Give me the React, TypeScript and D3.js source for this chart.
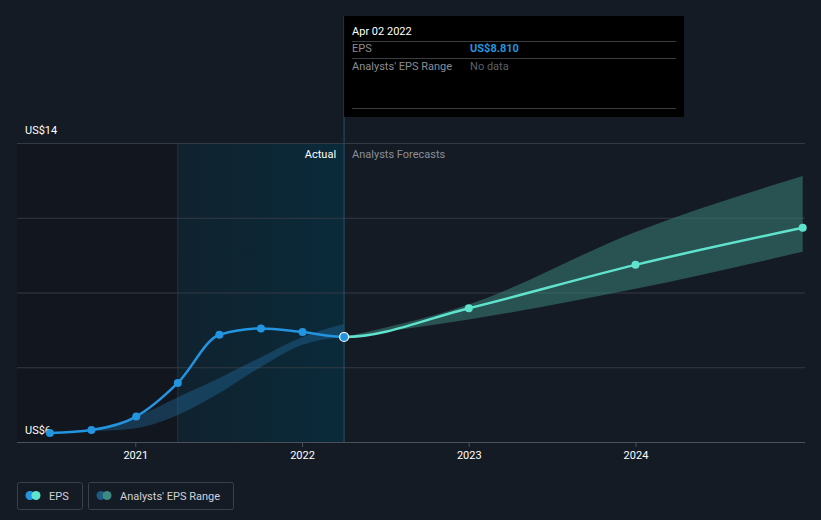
import React, { useEffect, useRef } from 'react';
import * as d3 from 'd3';

const histDates = ['2020-06-27', '2020-09-26', '2021-01-02', '2021-04-03', '2021-07-03', '2021-10-02', '2022-01-01', '2022-04-02'];
const histEps = [6.24, 6.32, 6.68, 7.58, 8.87, 9.04, 8.94, 8.81];

const fcDates = ['2022-12-31', '2023-12-31', '2024-12-31'];
const fcEps = [9.58, 10.74, 11.73];
const fcLow = [8.81, 9.28, 10.1, 11.09];
const fcHigh = [8.81, 9.68, 11.62, 13.12];

const pastRangeDates = ['2020-09-26', '2021-01-02', '2021-04-03', '2021-07-03', '2021-10-02', '2022-01-01', '2022-04-02'];
const pastLow = [6.29, 6.37, 6.72, 7.31, 8.01, 8.6, 8.81];
const pastHigh = [6.33, 6.68, 7.2, 7.71, 8.27, 8.81, 9.16];

const yearTicks = ['2021-01-01', '2022-01-01', '2023-01-01', '2024-01-01'];
const yTicks = [6, 8, 10, 12, 14];

const FONT = 'Roboto, "Noto Sans", sans-serif';

const App: React.FC = () => {
  const svgRef = useRef<SVGSVGElement | null>(null);

  useEffect(() => {
    if (!svgRef.current) return;
    const width = 821;
    const height = 520;
    const left = 17;
    const right = 805;
    const top = 143;
    const bottom = 442;

    const svg = d3.select(svgRef.current).attr('width', width).attr('height', height);
    svg.selectAll('*').remove();

    const p = (s: string) => new Date(s + 'T00:00:00');
    const x = d3.scaleTime().domain([p('2020-04-16'), p('2025-01-05')]).range([left, right]);
    const y = d3.scaleLinear().domain([6, 14]).range([bottom, top]);

    svg.append('rect').attr('width', width).attr('height', height).attr('fill', '#151b25');

    const cut = p('2021-04-03');
    const now = p('2022-04-02');

    const defs = svg.append('defs');
    const g1 = defs.append('linearGradient').attr('id', 'hl').attr('x1', 0).attr('x2', 1).attr('y1', 0).attr('y2', 0);
    g1.append('stop').attr('offset', 0).attr('stop-color', '#10222e');
    g1.append('stop').attr('offset', 1).attr('stop-color', '#0a2a3a');
    defs.append('clipPath').attr('id', 'clipPast').append('rect')
      .attr('x', 0).attr('y', 0).attr('width', x(now)).attr('height', height);
    defs.append('clipPath').attr('id', 'clipFuture').append('rect')
      .attr('x', x(now)).attr('y', 0).attr('width', width - x(now)).attr('height', height);

    // dark past region
    svg.append('rect').attr('x', left).attr('y', top).attr('width', x(cut) - left).attr('height', bottom - top).attr('fill', '#12161e');
    // highlighted last year
    svg.append('rect').attr('x', x(cut)).attr('y', top).attr('width', x(now) - x(cut)).attr('height', bottom - top).attr('fill', 'url(#hl)');
    svg.append('line').attr('x1', x(cut)).attr('x2', x(cut)).attr('y1', top).attr('y2', bottom).attr('stroke', '#1b3a48').attr('stroke-width', 1);

    // gridlines
    svg.append('g').selectAll('line').data(yTicks).enter().append('line')
      .attr('x1', left).attr('x2', right)
      .attr('y1', (d) => y(d) + 0.5).attr('y2', (d) => y(d) + 0.5)
      .attr('stroke', (d) => (d === 6 ? '#4a4f59' : '#343a44')).attr('stroke-width', 1);

    // y labels
    svg.append('text').attr('x', 25).attr('y', y(14) - 9).text('US$14')
      .attr('fill', '#ffffff').attr('font-size', 11).attr('font-family', FONT);
    svg.append('text').attr('x', 25).attr('y', y(6) - 8).text('US$6')
      .attr('fill', '#ffffff').attr('font-size', 11).attr('font-family', FONT);

    // x ticks
    svg.append('g').selectAll('line').data(yearTicks).enter().append('line')
      .attr('x1', (d) => x(p(d))).attr('x2', (d) => x(p(d)))
      .attr('y1', bottom).attr('y2', bottom + 5).attr('stroke', '#4a4f59');
    svg.append('g').selectAll('text').data(yearTicks).enter().append('text')
      .attr('x', (d) => x(p(d))).attr('y', bottom + 17).attr('text-anchor', 'middle')
      .text((d) => d.slice(0, 4)).attr('fill', '#ffffff').attr('font-size', 11).attr('font-family', FONT);

    // past analysts range band
    const pastBand = d3.area<number>()
      .x((i) => x(p(pastRangeDates[i])))
      .y0((i) => y(pastLow[i]))
      .y1((i) => y(pastHigh[i]))
      .curve(d3.curveMonotoneX);
    svg.append('path').datum(d3.range(pastRangeDates.length)).attr('d', pastBand)
      .attr('fill', '#2271a6').attr('opacity', 0.38);

    // forecast band
    const bandDates = [histDates[histDates.length - 1], ...fcDates];
    const fcBand = d3.area<number>()
      .x((i) => x(p(bandDates[i])))
      .y0((i) => y(fcLow[i]))
      .y1((i) => y(fcHigh[i]))
      .curve(d3.curveMonotoneX);
    svg.append('path').datum(d3.range(bandDates.length)).attr('d', fcBand)
      .attr('fill', '#3d8a82').attr('opacity', 0.5);

    // now line
    svg.append('line').attr('x1', x(now)).attr('x2', x(now)).attr('y1', 16).attr('y2', bottom)
      .attr('stroke', '#1f5466').attr('stroke-width', 1);

    // labels
    svg.append('text').attr('x', x(now) - 8).attr('y', 158).attr('text-anchor', 'end').text('Actual')
      .attr('fill', '#ffffff').attr('font-size', 11).attr('font-family', FONT);
    svg.append('text').attr('x', x(now) + 8).attr('y', 158).text('Analysts Forecasts')
      .attr('fill', '#8a8f98').attr('font-size', 11).attr('font-family', FONT);

    // one continuous curve, split at "now" into actual and forecast
    const allDates = [...histDates, ...fcDates];
    const allEps = [...histEps, ...fcEps];
    const fullLine = d3.line<number>()
      .x((i) => x(p(allDates[i])))
      .y((i) => y(allEps[i]))
      .curve(d3.curveMonotoneX);
    svg.append('path').datum(d3.range(allDates.length)).attr('d', fullLine)
      .attr('clip-path', 'url(#clipPast)')
      .attr('fill', 'none').attr('stroke', '#2394df').attr('stroke-width', 2.5);
    svg.append('path').datum(d3.range(allDates.length)).attr('d', fullLine)
      .attr('clip-path', 'url(#clipFuture)')
      .attr('fill', 'none').attr('stroke', '#5fe3cc').attr('stroke-width', 2.5);

    svg.append('g').selectAll('circle').data(d3.range(histDates.length - 1)).enter().append('circle')
      .attr('cx', (i) => x(p(histDates[i]))).attr('cy', (i) => y(histEps[i])).attr('r', 4)
      .attr('fill', '#2394df');
    svg.append('g').selectAll('circle').data(d3.range(fcDates.length)).enter().append('circle')
      .attr('cx', (i) => x(p(fcDates[i]))).attr('cy', (i) => y(fcEps[i])).attr('r', 4)
      .attr('fill', '#5fe3cc');
    svg.append('circle').attr('cx', x(now)).attr('cy', y(histEps[histEps.length - 1])).attr('r', 4.5)
      .attr('fill', '#2394df').attr('stroke', '#ffffff').attr('stroke-width', 1.2);

    // tooltip
    const tx = x(now);
    const tip = svg.append('g');
    tip.append('rect').attr('x', tx).attr('y', 16).attr('width', 340).attr('height', 101).attr('fill', '#000000');
    [41, 58, 108].forEach((ly) => {
      tip.append('line').attr('x1', tx + 8).attr('x2', tx + 332).attr('y1', ly + 0.5).attr('y2', ly + 0.5)
        .attr('stroke', '#3a3d42');
    });
    tip.append('text').attr('x', tx + 8).attr('y', 35).text('Apr 02 2022')
      .attr('fill', '#ffffff').attr('font-size', 11).attr('font-family', FONT);
    tip.append('text').attr('x', tx + 8).attr('y', 52).text('EPS')
      .attr('fill', '#8a8d92').attr('font-size', 11).attr('font-family', FONT);
    tip.append('text').attr('x', tx + 126).attr('y', 52).text('US$8.810')
      .attr('fill', '#2394df').attr('font-size', 11).attr('font-weight', 'bold').attr('font-family', FONT);
    tip.append('text').attr('x', tx + 8).attr('y', 70).text("Analysts' EPS Range")
      .attr('fill', '#8a8d92').attr('font-size', 11).attr('font-family', FONT);
    tip.append('text').attr('x', tx + 126).attr('y', 70).text('No data')
      .attr('fill', '#5d6066').attr('font-size', 11).attr('font-family', FONT);

    // legend
    const leg = svg.append('g');
    const items = [
      { label: 'EPS', x: 17, w: 65, c1: '#2394df', c2: '#5fe3cc' },
      { label: "Analysts' EPS Range", x: 88, w: 145, c1: '#1d5a86', c2: '#3d8a82' },
    ];
    items.forEach((it) => {
      leg.append('rect').attr('x', it.x + 0.5).attr('y', 482.5).attr('width', it.w).attr('height', 27).attr('rx', 2)
        .attr('fill', 'none').attr('stroke', '#3a3f48');
      leg.append('circle').attr('cx', it.x + 13).attr('cy', 495.5).attr('r', 4.5).attr('fill', it.c1);
      leg.append('circle').attr('cx', it.x + 19).attr('cy', 495.5).attr('r', 4.5).attr('fill', it.c2);
      leg.append('text').attr('x', it.x + 32).attr('y', 499.5).text(it.label)
        .attr('fill', '#cfd2d6').attr('font-size', 11).attr('font-family', FONT);
    });
  }, []);

  return (
    <div style={{ position: 'absolute', left: 0, top: 0 }}>
      <svg ref={svgRef} style={{ display: 'block' }}></svg>
    </div>
  );
};

export default App;
